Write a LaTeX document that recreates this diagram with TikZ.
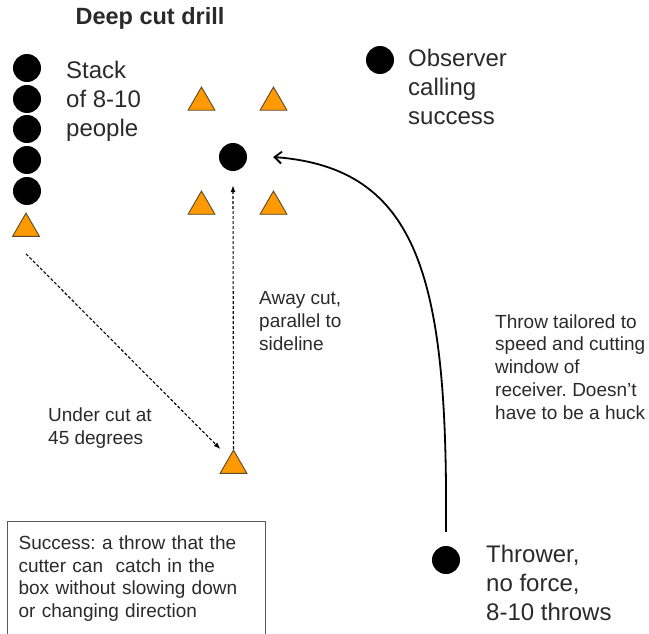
\documentclass[tikz,border=0pt]{standalone}
\usepackage{fontspec}
\setmainfont{Liberation Sans}
\usetikzlibrary{shapes.geometric,arrows.meta}
\frenchspacing

\definecolor{conefill}{HTML}{FF9900}
\definecolor{coneedge}{HTML}{5A4A2A}
\definecolor{ink}{HTML}{2A2A2A}

\tikzset{
  player/.style={circle, fill=black, inner sep=0, minimum size=28pt},
  cone/.style={regular polygon, regular polygon sides=3, fill=conefill, draw=coneedge,
    line width=0.9pt, inner sep=0, minimum size=31pt},
  biglbl/.style={anchor=west, align=left, inner sep=0, text=ink,
    font=\fontsize{24}{28.8}\selectfont},
  smalllbl/.style={anchor=west, align=left, inner sep=0, text=ink,
    font=\fontsize{19}{22.8}\selectfont},
  cutpath/.style={densely dashed, line width=1.1pt, -{Latex[length=7pt,width=5pt]}},
  throwpath/.style={line width=1.8pt, -{Straight Barb[length=7pt,width=12pt]}}
}

\begin{document}
\begin{tikzpicture}[x=1pt, y=-1pt]
\useasboundingbox (0,0) rectangle (649,634);

\node (title) at (150,18) [text=ink, font=\fontsize{23.5}{28}\selectfont\bfseries] {Deep cut drill};

% stack
\foreach \i/\y in {1/68, 2/99, 3/129, 4/160, 5/191}
  \node (stack\i) [player] at (27,\y) {};
\node (stackcone) [cone] at (26,228.6) {};
\node (stacklbl) [biglbl] at (66,101) {Stack\\of 8-10\\people};

% box of cones
\node (conea) [cone] at (201.5,102.5) {};
\node (coneb) [cone] at (273.5,102.5) {};
\node (conec) [cone] at (201.5,206.5) {};
\node (coned) [cone] at (273.5,206.5) {};
\node (cutter) [player] at (233,157) {};

% observer
\node (observer) [player] at (380,60) {};
\node (observerlbl) [biglbl] at (408,87) {Observer\\calling\\success};

% starting cone and cuts
\node (startcone) [cone] at (233.5,465.6) {};
\draw[cutpath] ([yshift=-17pt]stackcone.south) -- ([xshift=-13pt]startcone.north);
\draw[cutpath] (startcone.north) -- ([yshift=-14pt]cutter.south);
\node (awaylbl) [smalllbl] at (259,321) {Away cut,\\parallel to\\sideline};
\node (underlbl) [smalllbl] at (48,428) {Under cut at\\45 degrees};

% thrower and throw
\node (thrower) [player] at (446,560) {};
\node (throwerlbl) [biglbl] at (486,583) {Thrower,\\no force,\\8-10 throws};
\draw[throwpath] ([yshift=14pt]thrower.north) .. controls (448,280) and (420,168) .. ([xshift=26pt]cutter.east);
\node (throwlbl) [smalllbl] at (495,367) {Throw tailored to\\speed and cutting\\window of\\receiver. Doesn't\\have to be a huck};

% success rule
\node (successbox) [anchor=north west, draw=black!65, line width=1.2pt, align=left,
  text width=236pt, inner xsep=11pt, inner ysep=14pt, text=ink,
  font=\fontsize{19}{22.8}\selectfont] at (7,521)
  {Success: a throw that the\\cutter can\ \ catch in the\\box without slowing down\\or changing direction};
\end{tikzpicture}
\end{document}
